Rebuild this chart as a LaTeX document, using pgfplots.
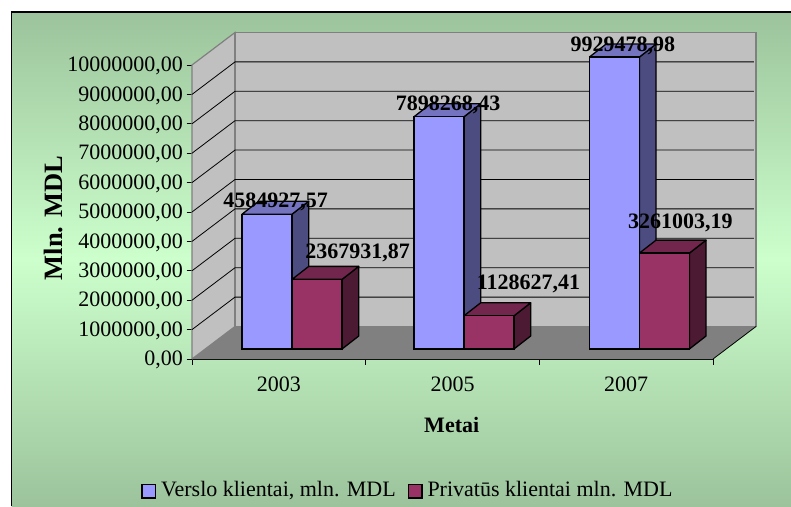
\documentclass[border=0pt]{standalone}
\usepackage{fontspec}
\setmainfont{Liberation Serif}
\usepackage{pgfplots}
\pgfplotsset{compat=1.18}
\definecolor{bgedge}{RGB}{156,195,156}
\definecolor{bgmid}{RGB}{204,255,204}
\definecolor{wallc}{RGB}{192,192,192}
\definecolor{wallb}{RGB}{128,128,128}
\definecolor{bluef}{RGB}{153,153,255}
\definecolor{bluet}{RGB}{115,115,191}
\definecolor{blues}{RGB}{76,76,128}
\definecolor{redf}{RGB}{153,51,102}
\definecolor{redt}{RGB}{115,38,77}
\definecolor{reds}{RGB}{77,26,51}
\newcommand{\fs}{\fontsize{22}{24}\selectfont}
\newcommand{\fy}{\fontsize{26.5}{28}\selectfont}
\begin{document}
\begin{tikzpicture}[x=1pt,y=1pt]
\path[use as bounding box] (0,0) rectangle (791,506);
\shade[top color=bgedge,bottom color=bgedge,middle color=bgmid] (11.5,0) rectangle (792,494);
\draw[black,line width=1.2pt] (11.5,0) -- (11.5,494) -- (792,494);
\begin{axis}[
  at={(192pt,147pt)},anchor=south west,
  scale only axis,width=521pt,height=294pt,
  clip=false,
  xmin=-0.5,xmax=2.5,ymin=0,ymax=10000000,
  axis x line*=bottom,axis y line*=left,
  axis line style={-,black,line width=0.8pt},
  xtick={0,1,2},xticklabels={2003,2005,2007},
  minor xtick={-0.5,0.5,1.5,2.5},
  major x tick style={draw=none},
  minor x tick style={draw=black,line width=0.8pt},
  tick align=outside,
  major tick length=5.5pt,minor tick length=5.5pt,
  ytick={0,1000000,2000000,3000000,4000000,5000000,6000000,7000000,8000000,9000000,10000000},
  ytick style={black,line width=0.9pt},
  scaled y ticks=false,
  /pgf/number format/fixed,
  /pgf/number format/fixed zerofill,
  /pgf/number format/precision=2,
  /pgf/number format/use comma,
  /pgf/number format/1000 sep={},
  /pgf/number format/assume math mode=true,
  tick label style={font=\fs},
  xticklabel style={yshift=-9pt},
  yticklabel style={yshift=-1pt},
  xlabel={\textbf{Metai}},ylabel={\textbf{Mln. MDL}},
  every axis x label/.style={at={(axis description cs:0.4985,-0.2245)},anchor=center,font=\fs},
  every axis y label/.style={at={(axis description cs:-0.2649,0.4796)},anchor=center,rotate=90,font=\fy},
  legend columns=2,
  legend cell align=left,
  legend style={at={(axis description cs:-0.097,-0.444)},anchor=west,draw=none,fill=none,font=\fs,
    /tikz/every even column/.append style={column sep=10pt},
    /tikz/every odd column/.append style={column sep=3pt},inner sep=0pt,outer sep=0pt},
  legend image code/.code={\draw[#1,line width=1.2pt] (0pt,-18.5pt) rectangle (13.5pt,-5pt);},
]
% walls and floor
\addplot[fill=wallc,draw=wallb,line width=1.2pt,forget plot] coordinates {(-0.5,0)(-0.5,10000000)(-0.2524,11105442)(-0.2524,1105442)(-0.5,0)};
\addplot[fill=wallc,draw=wallb,line width=1.8pt,forget plot] coordinates {(-0.2524,1105442)(2.7476,1105442)(2.7476,11105442)(-0.2524,11105442)(-0.2524,1105442)};
\addplot[fill=wallb,draw=none,forget plot] coordinates {(-0.5,0)(2.5,0)(2.7476,1105442)(-0.2524,1105442)(-0.5,0)};
\addplot[black,line width=0.8pt,forget plot] coordinates {(2.5,0)(2.7476,1105442)};
% grid lines
\addplot[black,line width=0.8pt,forget plot] coordinates {(-0.5,1000000)(-0.2524,2105442)(2.7350,2105442)};
\addplot[black,line width=0.8pt,forget plot] coordinates {(-0.5,2000000)(-0.2524,3105442)(2.7350,3105442)};
\addplot[black,line width=0.8pt,forget plot] coordinates {(-0.5,3000000)(-0.2524,4105442)(2.7350,4105442)};
\addplot[black,line width=0.8pt,forget plot] coordinates {(-0.5,4000000)(-0.2524,5105442)(2.7350,5105442)};
\addplot[black,line width=0.8pt,forget plot] coordinates {(-0.5,5000000)(-0.2524,6105442)(2.7350,6105442)};
\addplot[black,line width=0.8pt,forget plot] coordinates {(-0.5,6000000)(-0.2524,7105442)(2.7350,7105442)};
\addplot[black,line width=0.8pt,forget plot] coordinates {(-0.5,7000000)(-0.2524,8105442)(2.7350,8105442)};
\addplot[black,line width=0.8pt,forget plot] coordinates {(-0.5,8000000)(-0.2524,9105442)(2.7350,9105442)};
\addplot[black,line width=0.8pt,forget plot] coordinates {(-0.5,9000000)(-0.2524,10105442)(2.7350,10105442)};
% blue sides and tops
\pgfplotsset{faceb/.style={draw=black,line width=1.3pt,line join=round,xshift=13.2pt,yshift=10pt,forget plot}}
\addplot[faceb,fill=blues] coordinates {(0,0)(0,4584928)(0.0962,5027105)(0.0962,442177)(0,0)};
\addplot[faceb,fill=bluet] coordinates {(-0.2879,4584928)(0,4584928)(0.0962,5027105)(-0.1917,5027105)(-0.2879,4584928)};
\addplot[faceb,fill=blues] coordinates {(0.99,0)(0.99,7898268)(1.0862,8340445)(1.0862,442177)(0.99,0)};
\addplot[faceb,fill=bluet] coordinates {(0.7021,7898268)(0.99,7898268)(1.0862,8340445)(0.7983,8340445)(0.7021,7898268)};
\addplot[faceb,fill=blues] coordinates {(2,0)(2,9929479)(2.0962,10371656)(2.0962,442177)(2,0)};
\addplot[faceb,fill=bluet] coordinates {(1.7121,9929479)(2,9929479)(2.0962,10371656)(1.8083,10371656)(1.7121,9929479)};
% blue fronts
\addplot[ybar,bar width=50pt,bar shift=-25pt,fill=bluef,draw=black,line width=1.3pt,xshift=13.2pt,yshift=10pt]
  coordinates {(0,4584927.57)(0.99,7898268.43)(2,9929478.98)};
\addlegendentry{Verslo klientai, mln. MDL}
% red sides and tops
\addplot[faceb,fill=reds] coordinates {(0.2879,0)(0.2879,2367932)(0.3841,2810109)(0.3841,442177)(0.2879,0)};
\addplot[faceb,fill=redt] coordinates {(0,2367932)(0.2879,2367932)(0.3841,2810109)(0.0962,2810109)(0,2367932)};
\addplot[faceb,fill=reds] coordinates {(1.2779,0)(1.2779,1128627)(1.3741,1570804)(1.3741,442177)(1.2779,0)};
\addplot[faceb,fill=redt] coordinates {(0.99,1128627)(1.2779,1128627)(1.3741,1570804)(1.0862,1570804)(0.99,1128627)};
\addplot[faceb,fill=reds] coordinates {(2.2879,0)(2.2879,3261003)(2.3841,3703180)(2.3841,442177)(2.2879,0)};
\addplot[faceb,fill=redt] coordinates {(2,3261003)(2.2879,3261003)(2.3841,3703180)(2.0962,3703180)(2,3261003)};
% red fronts
\addplot[ybar,bar width=50pt,bar shift=25pt,fill=redf,draw=black,line width=1.3pt,xshift=13.2pt,yshift=10pt]
  coordinates {(0,2367931.87)(0.99,1128627.41)(2,3261003.19)};
\addlegendentry{Privatūs klientai mln. MDL}
% value labels
\node[anchor=base,font=\fs\bfseries,inner sep=0pt] at (axis cs:-0.0192,5159863) {4584927,57};
\node[anchor=base,font=\fs\bfseries,inner sep=0pt] at (axis cs:0.4530,3425170) {2367931,87};
\node[anchor=base,font=\fs\bfseries,inner sep=0pt] at (axis cs:0.9741,8435373) {7898268,43};
\node[anchor=base,font=\fs\bfseries,inner sep=0pt] at (axis cs:1.4376,2370748) {1128627,41};
\node[anchor=base,font=\fs\bfseries,inner sep=0pt] at (axis cs:1.9806,10465985) {9929478,98};
\node[anchor=base,font=\fs\bfseries,inner sep=0pt] at (axis cs:2.3128,4445578) {3261003,19};
\end{axis}
\end{tikzpicture}
\end{document}
